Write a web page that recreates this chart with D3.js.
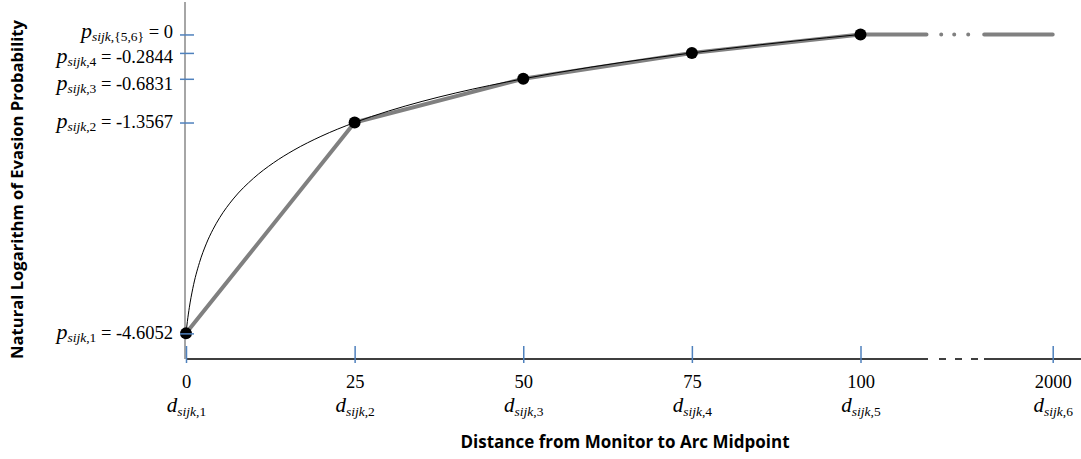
<!DOCTYPE html>
<html lang="en">

<head>
  <meta charset="utf-8">
  <title>Natural Logarithm of Evasion Probability</title>
  <script src="https://d3js.org/d3.v7.min.js"></script>
  <style>
    body { margin: 0; background: #fff; }
    .math { font-family: "Liberation Serif", "Times New Roman", serif; fill: #000; }
    .title { font-family: "Open Sans", sans-serif; font-weight: 700; font-size: 15px; fill: #000; }
    .tick line { stroke: #4f81bd; stroke-width: 1.5; }
  </style>
</head>

<body>
  <div id="chart"></div>
  <script>
    var w = 1081; // width
    var h = 459;  // height

    // breakpoints of the piecewise model
    var distances = [0, 25, 50, 75, 100, 2000];
    var distSubs = ['1', '2', '3', '4', '5', '6'];
    var logProb = [-4.6052, -1.3567, -0.6831, -0.2844, 0, 0];

    // y tick labels
    var pValues = [-4.6052, -1.3567, -0.6831, -0.2844, 0];
    var pSubs = ['1', '2', '3', '4', '{5,6}'];
    var pText = ['-4.6052', '-1.3567', '-0.6831', '-0.2844', '0'];
    var pNudge = [5.5, 5, 11, 10, 3]; // label baseline shift below its tick

    // thin smooth curve
    var curveD = [0, 0.1, 0.2, 0.5, 1, 2, 3, 4, 5, 7, 10, 13, 16, 20, 25, 30, 35, 40, 45, 50, 60, 70, 75, 80, 90, 100];
    var curveLogP = [-4.6052, -4.5108, -4.4245, -4.2031, -3.9171, -3.5133, -3.2264, -3.0038, -2.8218, -2.5345,
      -2.2164, -1.9755, -1.7814, -1.5702, -1.3567, -1.1809, -1.0314, -0.9014, -0.7863, -0.6831,
      -0.5042, -0.3524, -0.2844, -0.2207, -0.1043, 0];

    var svg = d3.select('#chart').append('svg')
      .attr('width', w)
      .attr('height', h);

    var x = d3.scaleLinear().domain([0, 100, 2000]).range([186, 860.5, 1052.7]);
    var y = d3.scaleLinear().domain([-5, 0.5]).range([359, 2]);

    // axis lines
    svg.append('line')
      .attr('x1', x(0) - 1).attr('x2', x(0) - 1)
      .attr('y1', y(0.5)).attr('y2', y(-5))
      .style('stroke', '#a6a6a6').style('stroke-width', 2);

    svg.append('line')
      .attr('x1', x(0)).attr('x2', w)
      .attr('y1', y(-5)).attr('y2', y(-5))
      .style('stroke', '#000').style('stroke-width', 1.3)
      .style('stroke-dasharray', '742 11 7 9 7 9 7 6 400');

    // grey piecewise line
    var pts = distances.map(function (d, i) { return [d, logProb[i]]; });
    var line = d3.line()
      .x(function (d) { return x(d[0]); })
      .y(function (d) { return y(d[1]); });

    svg.append('path')
      .datum(pts.slice(0, 5))
      .attr('d', line)
      .style('fill', 'none').style('stroke', '#808080')
      .style('stroke-width', 4).style('stroke-linejoin', 'round');

    svg.append('path')
      .datum(pts.slice(4))
      .attr('d', line)
      .style('fill', 'none').style('stroke', '#808080')
      .style('stroke-width', 4).style('stroke-linecap', 'round')
      .style('stroke-dasharray', '66 14.7 0 13 0 14 0 16 80');

    // thin black curve
    svg.append('path')
      .datum(curveD.map(function (d, i) { return [d, curveLogP[i]]; }))
      .attr('d', line.curve(d3.curveMonotoneX))
      .style('fill', 'none').style('stroke', '#000').style('stroke-width', 1);

    // dots
    svg.selectAll('circle.dot')
      .data(pts.slice(0, 5))
      .enter().append('circle')
      .attr('class', 'dot')
      .attr('cx', function (d) { return x(d[0]); })
      .attr('cy', function (d) { return y(d[1]); })
      .attr('r', 6)
      .style('fill', '#000');

    // x axis ticks + labels
    var xAxis = svg.append('g')
      .attr('transform', 'translate(0,346)')
      .call(d3.axisBottom(x).tickValues(distances).tickSizeInner(17).tickSizeOuter(0).tickFormat(''))
      .call(function (g) { g.select('.domain').remove(); });

    xAxis.selectAll('.tick').each(function (d, i) {
      var g = d3.select(this);
      g.append('text').attr('class', 'math')
        .attr('y', 42).attr('text-anchor', 'middle')
        .style('font-size', '18.5px')
        .text(d);
      var t = g.append('text').attr('class', 'math')
        .attr('y', 66).attr('text-anchor', 'middle');
      t.append('tspan').style('font-style', 'italic').style('font-size', '21px').text('d');
      t.append('tspan').attr('dy', 4).style('font-style', 'italic').style('font-size', '13.5px').text('sijk');
      t.append('tspan').style('font-size', '13.5px').text(',' + distSubs[i]);
    });

    // y axis ticks + labels
    var yAxis = svg.append('g')
      .attr('transform', 'translate(194,0)')
      .call(d3.axisLeft(y).tickValues(pValues).tickSizeInner(14).tickSizeOuter(0).tickFormat(''))
      .call(function (g) { g.select('.domain').remove(); });

    yAxis.selectAll('.tick').each(function (d, i) {
      var t = d3.select(this).append('text').attr('class', 'math')
        .attr('x', -21).attr('y', pNudge[i]).attr('text-anchor', 'end');
      t.append('tspan').style('font-style', 'italic').style('font-size', '22px').text('p');
      t.append('tspan').attr('dy', 3).style('font-style', 'italic').style('font-size', '13.5px').text('sijk');
      t.append('tspan').style('font-size', '13.5px').text(',' + pSubs[i]);
      t.append('tspan').attr('dy', -3).style('font-size', '18.5px').text('\u00a0= ' + pText[i]);
    });

    // axis titles, sized to span the same length as the original
    function fitTitle(sel, target) {
      var len = sel.node().getComputedTextLength();
      sel.style('font-size', Math.min(17, 15 * target / len) + 'px');
    }

    var xTitle = svg.append('text').attr('class', 'title')
      .attr('x', 625).attr('y', 448)
      .attr('text-anchor', 'middle')
      .text('Distance from Monitor to Arc Midpoint');
    fitTitle(xTitle, 340);

    var yTitle = svg.append('text').attr('class', 'title')
      .attr('transform', 'translate(23,189.5) rotate(-90)')
      .attr('text-anchor', 'middle')
      .text('Natural Logarithm of Evasion Probability');
    fitTitle(yTitle, 339);
  </script>
</body>

</html>
